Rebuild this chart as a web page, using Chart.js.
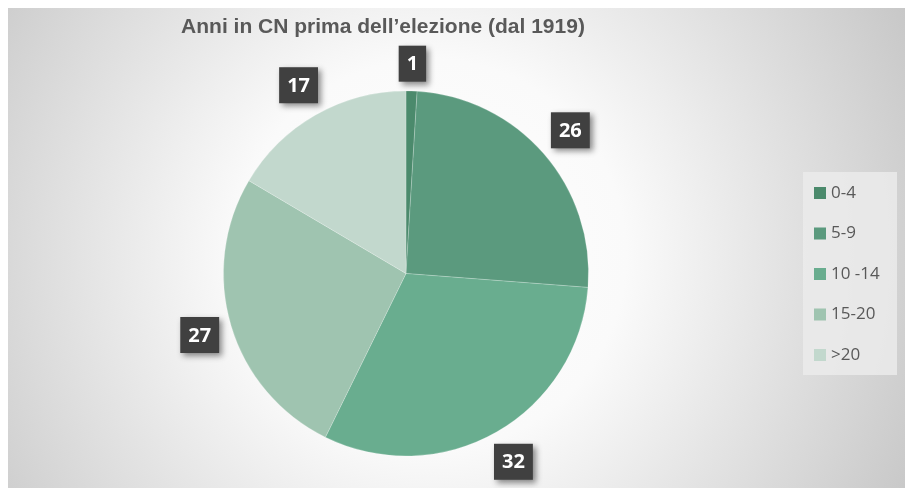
<!DOCTYPE html>
<html>
<head>
<meta charset="utf-8">
<script src="https://cdn.jsdelivr.net/npm/chart.js@4"></script>
<style>
  html, body { margin: 0; padding: 0; background: #fff; }
  canvas { display: block; }
</style>
</head>
<body>
<canvas id="pieChart" width="905" height="488"></canvas>
<script>
const TITLE = 'Anni in CN prima dell’elezione (dal 1919)';
const LABELS = ['0-4', '5-9', '10 -14', '15-20', '>20'];
const VALUES = [1, 26, 32, 27, 17];
const COLORS = ['#4b8a6c', '#5b9a7e', '#69ad8f', '#9fc4b0', '#c2d8cd'];

const backgroundPanel = {
  id: 'backgroundPanel',
  beforeDraw(chart) {
    const ctx = chart.ctx;
    ctx.save();
    ctx.fillStyle = '#ffffff';
    ctx.fillRect(0, 0, chart.width, chart.height);
    const grad = ctx.createRadialGradient(430, 255, 0, 430, 255, 560);
    grad.addColorStop(0, '#ffffff');
    grad.addColorStop(0.35, '#fafafa');
    grad.addColorStop(1, '#c4c4c4');
    ctx.fillStyle = grad;
    ctx.fillRect(8, 8, chart.width - 8, chart.height - 8);
    ctx.restore();
  }
};

const titleText = {
  id: 'titleText',
  afterDraw(chart) {
    const ctx = chart.ctx;
    ctx.save();
    ctx.font = 'bold 21px "Liberation Sans", Arial, sans-serif';
    ctx.fillStyle = '#595959';
    ctx.textAlign = 'center';
    ctx.textBaseline = 'middle';
    ctx.fillText(TITLE, 383, 27);
    ctx.restore();
  }
};

// dark boxes just outside each slice
const outsideLabels = {
  id: 'outsideLabels',
  afterDatasetsDraw(chart) {
    const ctx = chart.ctx;
    const meta = chart.getDatasetMeta(0);
    ctx.save();
    ctx.font = 'bold 20px "Open Sans", sans-serif';
    ctx.textAlign = 'center';
    ctx.textBaseline = 'middle';
    meta.data.forEach((arc, i) => {
      const { x, y, startAngle, endAngle, outerRadius } = arc.getProps(['x', 'y', 'startAngle', 'endAngle', 'outerRadius'], true);
      const mid = (startAngle + endAngle) / 2;
      const text = String(VALUES[i]);
      const w = ctx.measureText(text).width + 16;
      const h = 36;
      const sx = Math.cos(mid);
      const sy = Math.sin(mid);
      const dist = outerRadius + 9 + Math.abs(sx) * w / 2 + Math.abs(sy) * h / 2;
      const cx = x + sx * dist;
      const cy = y + sy * dist;
      ctx.shadowColor = 'rgba(0,0,0,0.45)';
      ctx.shadowBlur = 6;
      ctx.shadowOffsetX = 3;
      ctx.shadowOffsetY = 3;
      ctx.fillStyle = '#404040';
      ctx.fillRect(cx - w / 2, cy - h / 2, w, h);
      ctx.shadowColor = 'transparent';
      ctx.fillStyle = '#ffffff';
      ctx.fillText(text, cx, cy + 1);
    });
    ctx.restore();
  }
};

const sideLegend = {
  id: 'sideLegend',
  afterDraw(chart) {
    const ctx = chart.ctx;
    ctx.save();
    ctx.fillStyle = 'rgba(235,235,235,0.85)';
    ctx.fillRect(803, 172, 94, 203);
    ctx.font = '17px "Open Sans", sans-serif';
    ctx.textAlign = 'left';
    ctx.textBaseline = 'middle';
    LABELS.forEach((label, i) => {
      const cy = 193 + i * 40.5;
      ctx.fillStyle = COLORS[i];
      ctx.fillRect(814, cy - 6, 12, 12);
      ctx.fillStyle = '#595959';
      ctx.fillText(label, 831, cy);
    });
    ctx.restore();
  }
};

new Chart(document.getElementById('pieChart'), {
  type: 'pie',
  data: {
    labels: LABELS,
    datasets: [{
      data: VALUES,
      backgroundColor: COLORS,
      borderColor: 'rgba(255,255,255,0.2)',
      borderWidth: 1
    }]
  },
  options: {
    responsive: false,
    animation: false,
    layout: { padding: { top: 90, bottom: 31, left: 223, right: 316 } },
    plugins: {
      legend: { display: false },
      title: { display: false },
      tooltip: { enabled: false }
    }
  },
  plugins: [backgroundPanel, outsideLabels, sideLegend, titleText]
});
</script>
</body>
</html>
